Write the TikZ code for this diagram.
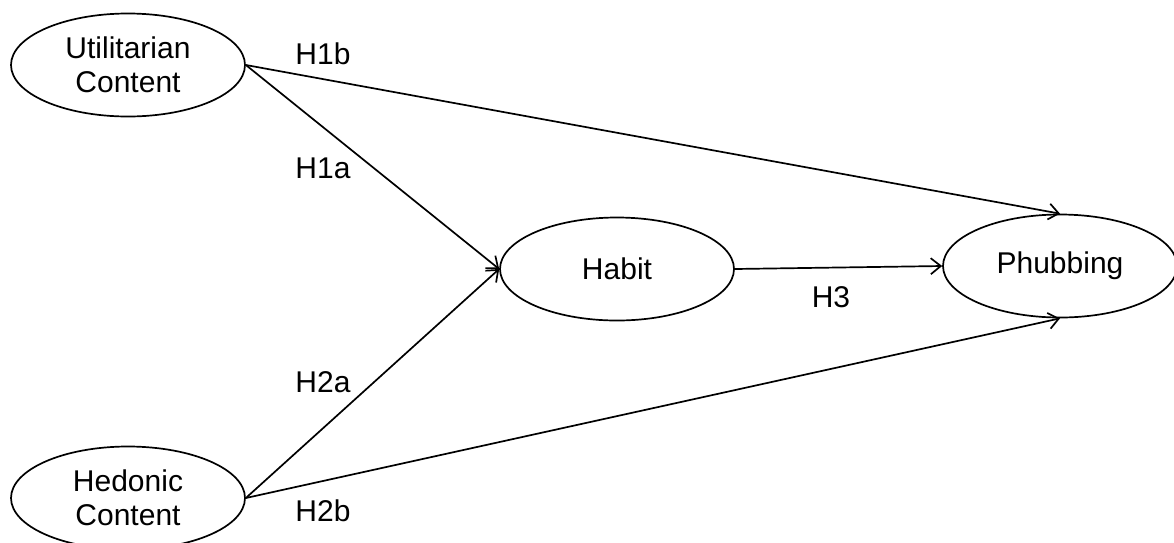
\documentclass[tikz,border=0pt]{standalone}
\usepackage{fontspec}
\setmainfont{Liberation Sans}
\usetikzlibrary{shapes.geometric,arrows.meta}
\begin{document}
\begin{tikzpicture}[x=1pt,y=-1pt,
  latent/.style={draw,ellipse,line width=1.7pt,minimum width=234pt,minimum height=103pt,inner sep=0pt,align=center,font=\fontsize{30}{34}\selectfont},
  path/.style={line width=1.7pt,-{Straight Barb[length=10pt,width=16pt,line width=1.7pt]}},
  lab/.style={font=\fontsize{30}{34}\selectfont,inner sep=0pt}]
\useasboundingbox (0,0) rectangle (1174,542);
\node[latent] (uc) at (128,65) {Utilitarian\\Content};
\node[latent] (hc) at (128,498) {Hedonic\\Content};
\node[latent] (hab) at (617,269) {Habit};
\node[latent] (ph) at (1060,266) {Phubbing};
\draw[path] (uc.east) -- (ph.north);
\draw[path] (uc.east) -- (hab.west);
\draw[path] (hc.east) -- (hab.west);
\draw[path] (hc.east) -- (ph.south);
\draw[path] (hab.east) -- (ph.west);
\node[lab] (l1b) at (323,54) {H1b};
\node[lab] (l1a) at (323,168) {H1a};
\node[lab] (l2a) at (323,382) {H2a};
\node[lab] (l2b) at (323,511) {H2b};
\node[lab] (l3) at (831,297) {H3};
\end{tikzpicture}
\end{document}
